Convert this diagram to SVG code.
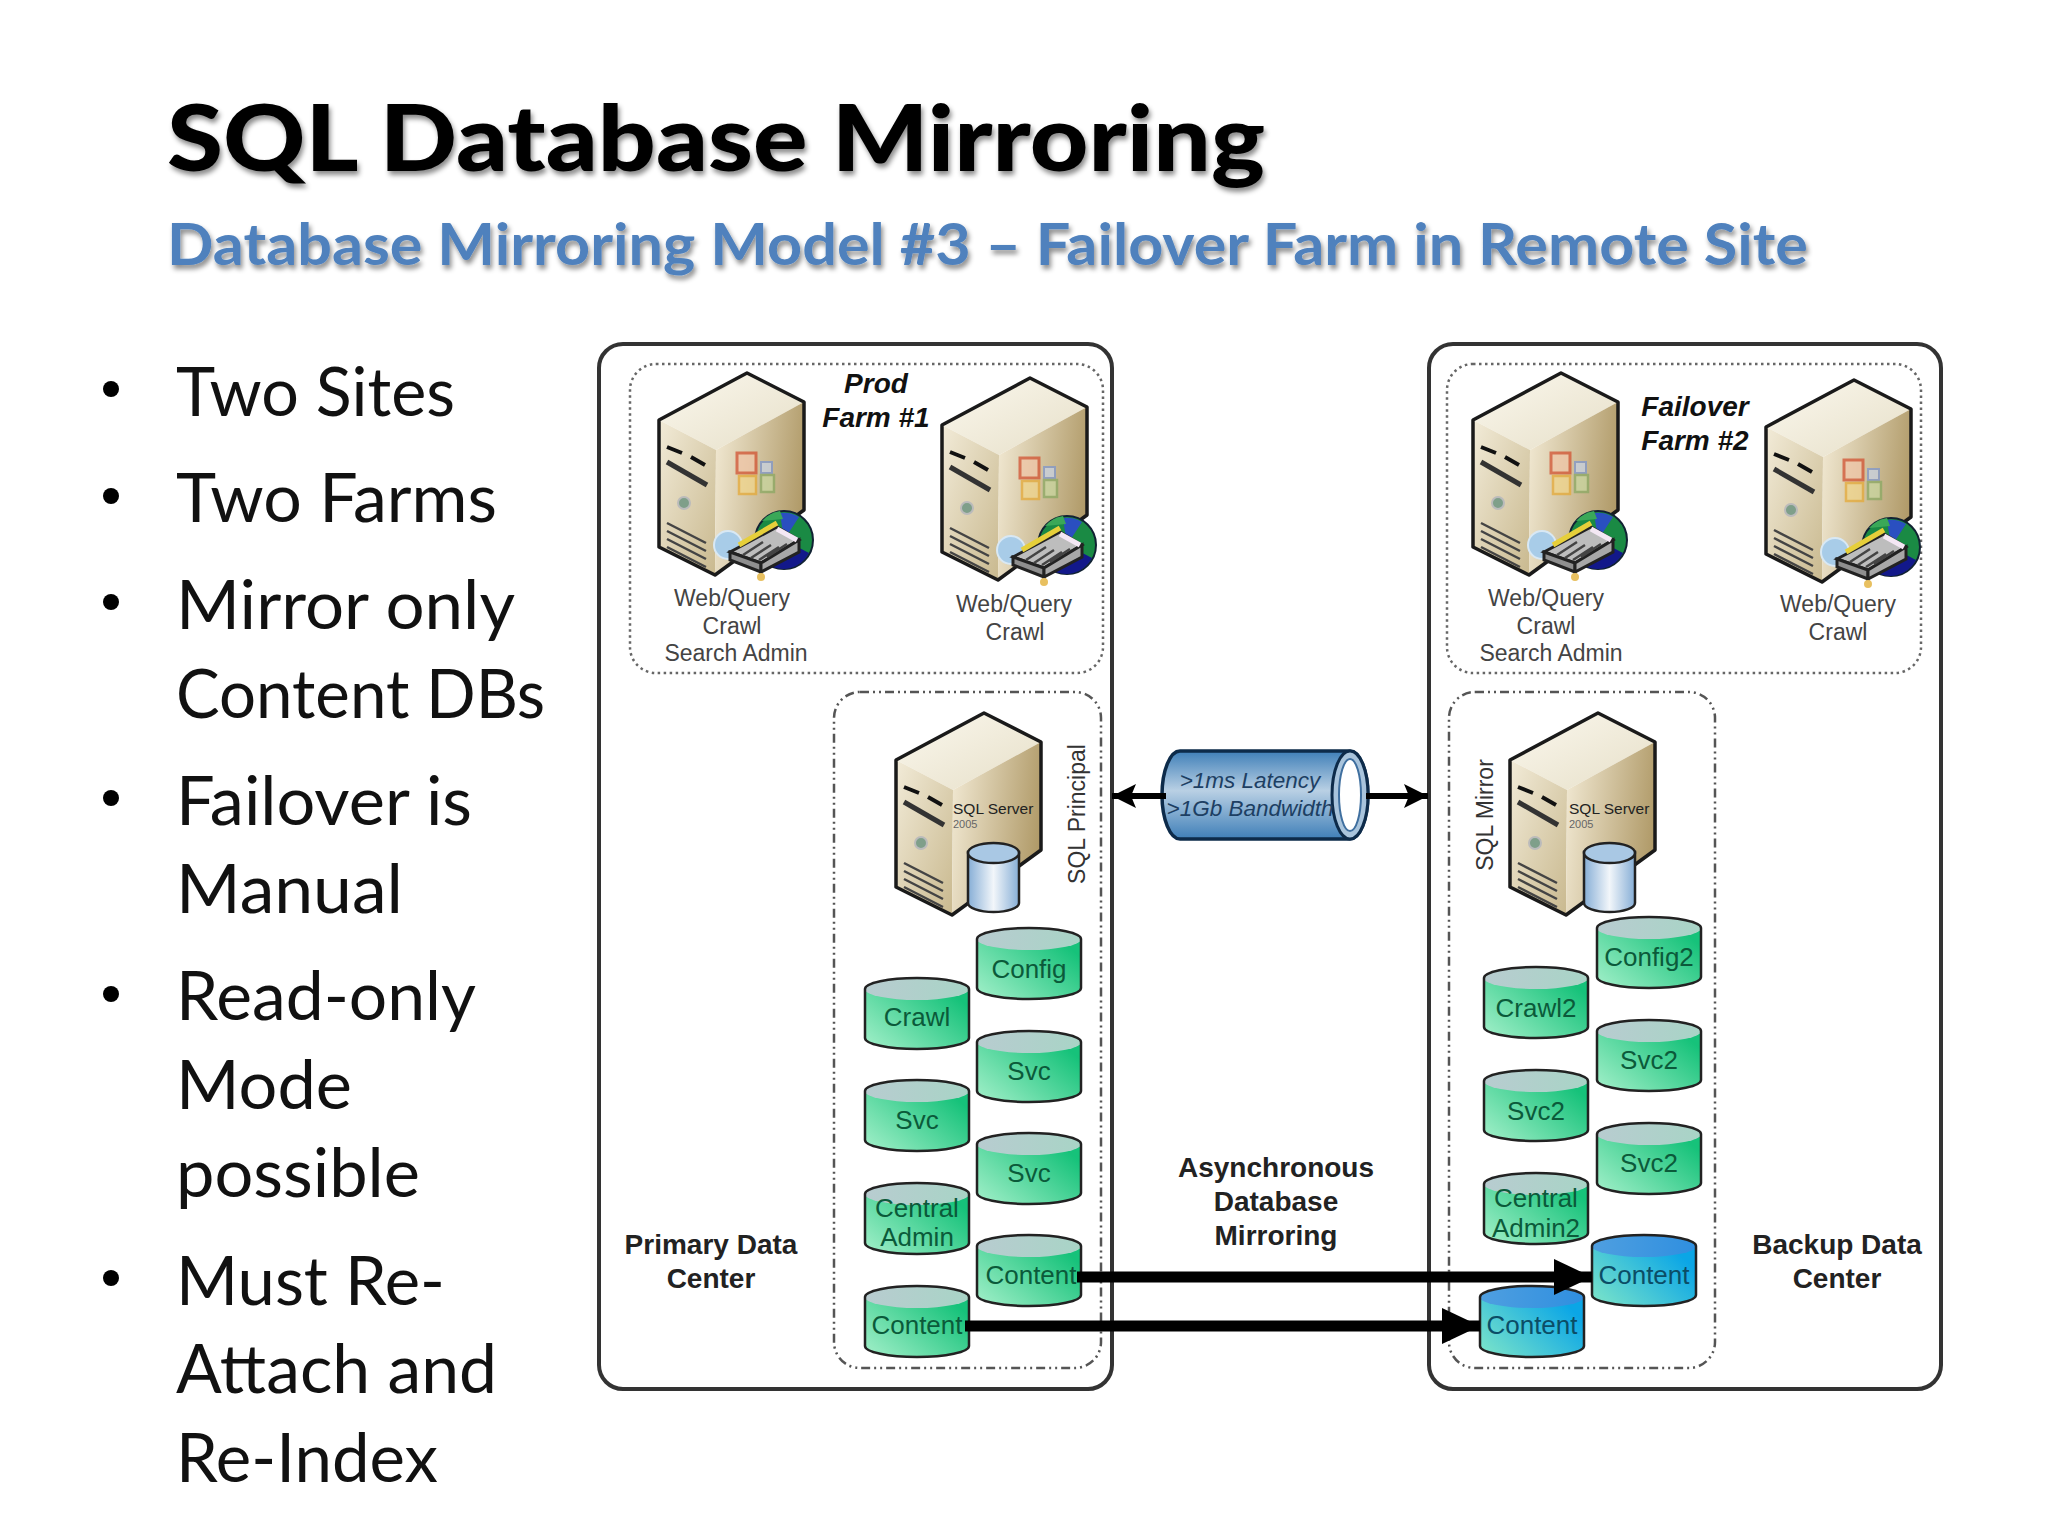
<svg xmlns="http://www.w3.org/2000/svg" xmlns:xlink="http://www.w3.org/1999/xlink" width="2048" height="1536" viewBox="0 0 2048 1536">
<style>
.lato{font-family:"Lato","Open Sans",sans-serif}
.bul{font-size:67px;fill:#111}
.sans{font-family:"Liberation Sans",Arial,sans-serif}
.cap{font-size:23px;fill:#444;text-anchor:middle}
.farm{font-size:28px;font-weight:bold;font-style:italic;fill:#111;text-anchor:middle}
.bold{font-size:28px;font-weight:bold;fill:#222;text-anchor:middle}
.db{font-size:26px;fill:#0b5a3a;text-anchor:middle}
.dbb{font-size:26px;fill:#0b4d66;text-anchor:middle}
.vert{font-size:23px;fill:#333;text-anchor:middle}
.site{fill:#fff;stroke:#333;stroke-width:4}
.dot{fill:none;stroke:#666;stroke-width:2.5;stroke-dasharray:2.5 3.5}
.dash{fill:none;stroke:#555;stroke-width:2.5;stroke-dasharray:9 4 2 4 2 4}
.cylb{stroke:#222;stroke-width:2.5;fill:none}
.thick{stroke:#000;stroke-width:11;fill:none}
.thin{stroke:#000;stroke-width:6;fill:none}
</style>
<defs>
<filter id="shadow" x="-5%" y="-20%" width="110%" height="150%"><feDropShadow dx="2" dy="4" stdDeviation="2.5" flood-color="#000" flood-opacity="0.45"/></filter>
<linearGradient id="gFront" x1="0" y1="0" x2="1" y2="1"><stop offset="0" stop-color="#f2ebd8"/><stop offset="1" stop-color="#c9b98f"/></linearGradient>
<linearGradient id="gSide" x1="0" y1="0.3" x2="1" y2="0.5"><stop offset="0" stop-color="#efe6cf"/><stop offset="1" stop-color="#b09a68"/></linearGradient>
<linearGradient id="gTop" x1="0" y1="0" x2="1" y2="1"><stop offset="0" stop-color="#fbf8ee"/><stop offset="1" stop-color="#e6dfc8"/></linearGradient>
<linearGradient id="gGreen" x1="0" y1="1" x2="1" y2="0.3"><stop offset="0" stop-color="#a4f0ca"/><stop offset="1" stop-color="#16c27a"/></linearGradient>
<linearGradient id="gGreenTop" x1="0" y1="0" x2="1" y2="0"><stop offset="0" stop-color="#b8ccd0"/><stop offset="1" stop-color="#a8d4c6"/></linearGradient>
<linearGradient id="gBlue" x1="0" y1="1" x2="1" y2="0.4"><stop offset="0" stop-color="#7fe6c8"/><stop offset="1" stop-color="#0ba6e6"/></linearGradient>
<linearGradient id="gBlueTop" x1="0" y1="0" x2="1" y2="0"><stop offset="0" stop-color="#4f9fe0"/><stop offset="1" stop-color="#2f8fe0"/></linearGradient>
<linearGradient id="gTube" x1="0" y1="0" x2="0" y2="1"><stop offset="0" stop-color="#3f7fb8"/><stop offset="0.45" stop-color="#b9d0e4"/><stop offset="1" stop-color="#3f7fb8"/></linearGradient>
<linearGradient id="gSmall" x1="0" y1="0" x2="1" y2="0"><stop offset="0" stop-color="#86aed6"/><stop offset="0.5" stop-color="#f2f6fa"/><stop offset="1" stop-color="#86aed6"/></linearGradient>
<g id="server">
<path d="M0,0 L57,29 L-31,77 L-88,47 Z" fill="url(#gTop)"/>
<path d="M-88,47 L-31,77 L-32,202 L-88,174 Z" fill="url(#gFront)"/>
<path d="M-31,77 L57,29 L57,137 L-32,202 Z" fill="url(#gSide)"/>
<path d="M0,0 L57,29 L57,137 L-32,202 L-88,174 L-88,47 Z" fill="none" stroke="#1a1a1a" stroke-width="3.5" stroke-linejoin="round"/>
<path d="M-80,74 L-65,80 M-56,84 L-42,92" stroke="#111" stroke-width="4" fill="none"/>
<path d="M-80,89 L-40,112" stroke="#333" stroke-width="5" fill="none"/>
<circle cx="-63" cy="130" r="6" fill="#7f9f8a" stroke="#bbb" stroke-width="2"/>
<path d="M-80,150 L-41,170 M-80,158 L-41,178 M-80,166 L-41,186 M-80,174 L-41,194" stroke="#444" stroke-width="2.500" fill="none"/>
</g>
<g id="badge">
<g opacity="0.7">
<rect x="-10" y="80" width="19" height="20" fill="#f2c6a8" stroke="#d24a2a" stroke-width="3"/>
<rect x="14" y="89" width="11" height="11" fill="#c8d4e8" stroke="#7a94d0" stroke-width="2"/>
<rect x="-8" y="103" width="17" height="18" fill="#f2d68a" stroke="#e6a830" stroke-width="2.5"/>
<rect x="14" y="102" width="13" height="17" fill="#c8d8a0" stroke="#86a860" stroke-width="2.5"/>
</g>
<circle cx="-19" cy="172" r="14" fill="#a8cce8" stroke="#d8e8f4" stroke-width="2"/>
<circle cx="37" cy="167" r="29" fill="#1a8a44" stroke="#123" stroke-width="2"/>
<path d="M37,167 L33,140 A29,29 0 0 1 52,144 Z" fill="#2a4fc0"/>
<path d="M37,167 L62,180 A29,29 0 0 1 20,191 Z" fill="#12188a"/>
<path d="M15,148 A29,29 0 0 1 33,138 L36,146 Z" fill="#3aa858"/>
<path d="M-17,179 L30,154 L52,167 L14,190 Z" fill="#bdbdbd" stroke="#222" stroke-width="3"/>
<path d="M-17,179 L14,190 L14,199 L-17,187 Z" fill="#8f8f8f" stroke="#222" stroke-width="3"/>
<path d="M14,190 L52,167 L52,179 L14,199 Z" fill="#a8a8a8" stroke="#222" stroke-width="3"/>
<path d="M-8,172 L30,150" stroke="#e6cf3a" stroke-width="5"/>
<path d="M-4,182 L16,169 M4,185 L24,172 M12,187 L32,174 M20,184 L40,171" stroke="#444" stroke-width="2.500"/>
<path d="M30,156 L50,167" stroke="#f4e8f4" stroke-width="5"/>
<circle cx="14" cy="204" r="4" fill="#e8c060"/>
</g>
<g id="sqlbits">
<text class="sans" x="-31" y="101" font-size="15.5" fill="#222">SQL Server</text>
<text class="sans" x="-31" y="115" font-size="11" fill="#666">2005</text>
<path d="M-16,139 V190 A25.5,9 0 0 0 35,190 V139 Z" fill="url(#gSmall)" stroke="#222" stroke-width="2.5"/>
<ellipse cx="9.5" cy="140" rx="25.500" ry="10" fill="#a9c8e4" stroke="#222" stroke-width="2.5"/>
</g>
<g id="cylG"><path d="M0,11 V60 A52,11 0 0 0 104,60 V11 Z" fill="url(#gGreen)"/><ellipse cx="52" cy="11" rx="52" ry="11" fill="url(#gGreenTop)"/><path class="cylb" d="M0,11 V60 A52,11 0 0 0 104,60 V11 A52,11 0 0 0 0,11 Z"/></g>
<g id="cylB"><path d="M0,11 V60 A52,11 0 0 0 104,60 V11 Z" fill="url(#gBlue)"/><ellipse cx="52" cy="11" rx="52" ry="11" fill="url(#gBlueTop)"/><path class="cylb" d="M0,11 V60 A52,11 0 0 0 104,60 V11 A52,11 0 0 0 0,11 Z"/></g>
<marker id="headBig" viewBox="0 0 38 36" refX="38" refY="18" markerUnits="userSpaceOnUse" markerWidth="38" markerHeight="36" orient="auto"><path d="M0,0 L38,18 L0,36 Z" fill="#000"/></marker>
<marker id="headSmall" viewBox="0 0 24 24" refX="24" refY="12" markerUnits="userSpaceOnUse" markerWidth="24" markerHeight="24" orient="auto"><path d="M0,0 L24,12 L0,24 L5,12 Z" fill="#000"/></marker>
</defs>
<rect width="2048" height="1536" fill="#fff"/>

<text id="title" class="lato" x="167" y="171" font-size="92" font-weight="900" fill="#000" textLength="1098" lengthAdjust="spacingAndGlyphs" filter="url(#shadow)">SQL Database Mirroring</text>
<text id="subtitle" class="lato" x="167" y="265" font-size="58" font-weight="bold" fill="#4f81bd" textLength="1641" lengthAdjust="spacingAndGlyphs" filter="url(#shadow)">Database Mirroring Model #3 – Failover Farm in Remote Site</text>

<g id="bullets" class="lato">
<circle cx="111" cy="389" r="8"/><circle cx="111" cy="496" r="8"/><circle cx="111" cy="602" r="8"/><circle cx="111" cy="798" r="8"/><circle cx="111" cy="994" r="8"/><circle cx="111" cy="1278" r="8"/>
<text class="bul" x="176" y="416" textLength="279" lengthAdjust="spacingAndGlyphs">Two Sites</text>
<text class="bul" x="176" y="522" textLength="321" lengthAdjust="spacingAndGlyphs">Two Farms</text>
<text class="bul" x="176" y="629" textLength="339" lengthAdjust="spacingAndGlyphs">Mirror only</text>
<text class="bul" x="176" y="718" textLength="369" lengthAdjust="spacingAndGlyphs">Content DBs</text>
<text class="bul" x="176" y="825" textLength="296" lengthAdjust="spacingAndGlyphs">Failover is</text>
<text class="bul" x="176" y="913" textLength="227" lengthAdjust="spacingAndGlyphs">Manual</text>
<text class="bul" x="176" y="1020" textLength="300" lengthAdjust="spacingAndGlyphs">Read-only</text>
<text class="bul" x="176" y="1109" textLength="176" lengthAdjust="spacingAndGlyphs">Mode</text>
<text class="bul" x="176" y="1197" textLength="244" lengthAdjust="spacingAndGlyphs">possible</text>
<text class="bul" x="176" y="1305" textLength="269" lengthAdjust="spacingAndGlyphs">Must Re-</text>
<text class="bul" x="176" y="1393" textLength="321" lengthAdjust="spacingAndGlyphs">Attach and</text>
<text class="bul" x="176" y="1482" textLength="262" lengthAdjust="spacingAndGlyphs">Re-Index</text>
</g>

<g id="primary-site" class="sans">
<rect class="site" x="599" y="344" width="513" height="1045" rx="24"/>
<text class="bold" x="711" y="1254">Primary Data</text>
<text class="bold" x="711" y="1288">Center</text>
</g>
<g id="backup-site" class="sans">
<rect class="site" x="1429" y="344" width="512" height="1045" rx="24"/>
<text class="bold" x="1837" y="1254">Backup Data</text>
<text class="bold" x="1837" y="1288">Center</text>
</g>

<g id="prod-farm" class="sans">
<rect class="dot" x="630" y="364" width="473" height="309" rx="26"/>
<text class="farm" x="876" y="393">Prod</text>
<text class="farm" x="876" y="427">Farm #1</text>
</g>
<g id="prod-server-1" class="sans">
<use xlink:href="#server" href="#server" x="747" y="373"/><use xlink:href="#badge" href="#badge" x="747" y="373"/>
<text class="cap" x="732" y="606">Web/Query</text><text class="cap" x="732" y="634">Crawl</text><text class="cap" x="736" y="661">Search Admin</text>
</g>
<g id="prod-server-2" class="sans">
<use xlink:href="#server" href="#server" x="1030" y="378"/><use xlink:href="#badge" href="#badge" x="1030" y="378"/>
<text class="cap" x="1014" y="612">Web/Query</text><text class="cap" x="1015" y="640">Crawl</text>
</g>

<g id="failover-farm" class="sans">
<rect class="dot" x="1447" y="364" width="474" height="309" rx="26"/>
<text class="farm" x="1695" y="416">Failover</text>
<text class="farm" x="1695" y="450">Farm #2</text>
</g>
<g id="failover-server-1" class="sans">
<use xlink:href="#server" href="#server" x="1561" y="373"/><use xlink:href="#badge" href="#badge" x="1561" y="373"/>
<text class="cap" x="1546" y="606">Web/Query</text><text class="cap" x="1546" y="634">Crawl</text><text class="cap" x="1551" y="661">Search Admin</text>
</g>
<g id="failover-server-2" class="sans">
<use xlink:href="#server" href="#server" x="1854" y="380"/><use xlink:href="#badge" href="#badge" x="1854" y="380"/>
<text class="cap" x="1838" y="612">Web/Query</text><text class="cap" x="1838" y="640">Crawl</text>
</g>

<g id="sql-principal" class="sans">
<rect class="dash" x="834" y="692" width="267" height="676" rx="26"/>
<use xlink:href="#server" href="#server" x="984" y="713"/><use xlink:href="#sqlbits" href="#sqlbits" x="984" y="713"/>
<text class="vert" transform="translate(1085,814) rotate(-90)">SQL Principal</text>
</g>
<g id="sql-mirror" class="sans">
<rect class="dash" x="1449" y="692" width="266" height="676" rx="26"/>
<use xlink:href="#server" href="#server" x="1598" y="713"/><use xlink:href="#sqlbits" href="#sqlbits" x="1600" y="713"/>
<text class="vert" transform="translate(1493,815) rotate(-90)">SQL Mirror</text>
</g>

<g id="db-config" class="sans"><use xlink:href="#cylG" href="#cylG" x="977" y="928"/><text class="db" x="1029" y="978">Config</text></g>
<g id="db-crawl" class="sans"><use xlink:href="#cylG" href="#cylG" x="865" y="978"/><text class="db" x="917" y="1026">Crawl</text></g>
<g id="db-svc-a" class="sans"><use xlink:href="#cylG" href="#cylG" x="977" y="1031"/><text class="db" x="1029" y="1080">Svc</text></g>
<g id="db-svc-b" class="sans"><use xlink:href="#cylG" href="#cylG" x="865" y="1080"/><text class="db" x="917" y="1129">Svc</text></g>
<g id="db-svc-c" class="sans"><use xlink:href="#cylG" href="#cylG" x="977" y="1133"/><text class="db" x="1029" y="1182">Svc</text></g>
<g id="db-admin" class="sans"><use xlink:href="#cylG" href="#cylG" x="865" y="1183"/><text class="db" x="917" y="1217">Central</text><text class="db" x="917" y="1246">Admin</text></g>
<g id="db-content-a" class="sans"><use xlink:href="#cylG" href="#cylG" x="977" y="1235"/><text class="db" x="1031" y="1284">Content</text></g>
<g id="db-content-b" class="sans"><use xlink:href="#cylG" href="#cylG" x="865" y="1286"/><text class="db" x="917" y="1334">Content</text></g>

<g id="db-config2" class="sans"><use xlink:href="#cylG" href="#cylG" x="1597" y="917"/><text class="db" x="1649" y="966">Config2</text></g>
<g id="db-crawl2" class="sans"><use xlink:href="#cylG" href="#cylG" x="1484" y="967"/><text class="db" x="1536" y="1017">Crawl2</text></g>
<g id="db-svc2-a" class="sans"><use xlink:href="#cylG" href="#cylG" x="1597" y="1020"/><text class="db" x="1649" y="1069">Svc2</text></g>
<g id="db-svc2-b" class="sans"><use xlink:href="#cylG" href="#cylG" x="1484" y="1070"/><text class="db" x="1536" y="1120">Svc2</text></g>
<g id="db-svc2-c" class="sans"><use xlink:href="#cylG" href="#cylG" x="1597" y="1123"/><text class="db" x="1649" y="1172">Svc2</text></g>
<g id="db-admin2" class="sans"><use xlink:href="#cylG" href="#cylG" x="1484" y="1173"/><text class="db" x="1536" y="1207">Central</text><text class="db" x="1536" y="1237">Admin2</text></g>
<g id="db-content-c" class="sans"><use xlink:href="#cylB" href="#cylB" x="1592" y="1235"/><text class="dbb" x="1644" y="1284">Content</text></g>
<g id="db-content-d" class="sans"><use xlink:href="#cylB" href="#cylB" x="1480" y="1286"/><text class="dbb" x="1532" y="1334">Content</text></g>

<g id="wan-link" class="sans">
<path d="M1180,751 H1350 A18,44 0 0 1 1350,839 H1180 A18,44 0 0 1 1180,751 Z" fill="url(#gTube)" stroke="#0d2b4a" stroke-width="3.500"/>
<ellipse cx="1350" cy="795" rx="18" ry="44" fill="#a9c4dc" stroke="#0d2b4a" stroke-width="3"/>
<ellipse cx="1350" cy="795" rx="11" ry="36" fill="#fff" stroke="#3f6f9f" stroke-width="2"/>
<text x="1250" y="788" font-size="22.500" font-style="italic" fill="#1d3f63" text-anchor="middle">&gt;1ms Latency</text>
<text x="1250" y="816" font-size="22.500" font-style="italic" fill="#1d3f63" text-anchor="middle">&gt;1Gb Bandwidth</text>
</g>
<text id="async-label" class="sans bold" x="1276" y="1177">Asynchronous</text>
<text id="async-label-2" class="sans bold" x="1276" y="1211">Database</text>
<text id="async-label-3" class="sans bold" x="1276" y="1245">Mirroring</text>

<g id="connectors">
<path class="thin" d="M1166,796 H1112" marker-end="url(#headSmall)"/>
<path class="thin" d="M1366,796 H1428" marker-end="url(#headSmall)"/>
<path class="thick" d="M1077,1277 H1592" marker-end="url(#headBig)"/>
<path class="thick" d="M965,1326 H1480" marker-end="url(#headBig)"/>
</g>
</svg>
